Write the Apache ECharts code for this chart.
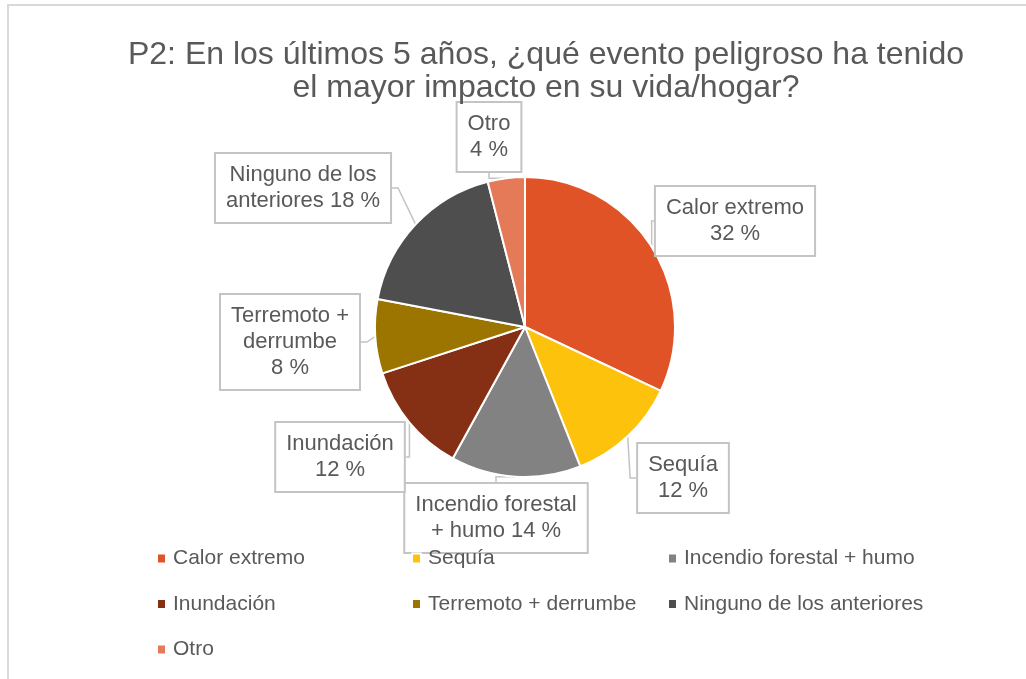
<!DOCTYPE html>
<html>
<head>
<meta charset="utf-8">
<script src="https://cdn.jsdelivr.net/npm/echarts@6/dist/echarts.min.js"></script>
<style>
  html, body { margin: 0; padding: 0; background: #fff; }
  #chart { width: 1026px; height: 679px; }
</style>
</head>
<body>
<div id="chart"></div>
<script>
const categories = [
  'Calor extremo',
  'Sequía',
  'Incendio forestal + humo',
  'Inundación',
  'Terremoto + derrumbe',
  'Ninguno de los anteriores',
  'Otro'
]
const percentValues = [32, 12, 14, 12, 8, 18, 4]
const sliceColors = ['#E05327', '#FDC20B', '#828282', '#852F15', '#9C7500', '#4E4E4E', '#E57A59']
// label text as it wraps in the callouts
const calloutTexts = [
  'Calor extremo\n32 %',
  'Sequía\n12 %',
  'Incendio forestal\n+ humo 14 %',
  'Inundación\n12 %',
  'Terremoto +\nderrumbe\n8 %',
  'Ninguno de los\nanteriores 18 %',
  'Otro\n4 %'
]
// callout box centers
const calloutPos = [
  [735, 221], [683, 478], [496, 518], [340, 457], [290, 342], [303, 188], [489, 137]
]

const chart = echarts.init(document.getElementById('chart'))
const textColor = '#595959'
const font = 'Liberation Sans'

const legendItem = (names, left) => ({
  data: names,
  left: left,
  top: 543,
  orient: 'vertical',
  itemWidth: 9,
  itemHeight: 10,
  itemGap: 24.5,
  icon: 'rect',
  selectedMode: false,
  textStyle: { color: textColor, fontSize: 21, fontFamily: font, padding: [0, 0, 0, 2] }
})

const option = {
  backgroundColor: '#fff',
  color: sliceColors,
  graphic: [{
    type: 'rect',
    shape: { x: 8, y: 5, width: 1040, height: 700 },
    style: { fill: 'none', stroke: '#d9d9d9', lineWidth: 2 },
    silent: true
  }],
  title: {
    text: 'P2: En los últimos 5 años, ¿qué evento peligroso ha tenido\nel mayor impacto en su vida/hogar?',
    left: 541,
    top: 34,
    textAlign: 'center',
    textStyle: {
      color: textColor,
      fontSize: 32,
      fontWeight: 'normal',
      fontFamily: font,
      lineHeight: 33,
      align: 'center'
    }
  },
  legend: [
    legendItem([categories[0], categories[3], categories[6]], 151),
    legendItem([categories[1], categories[4]], 406),
    legendItem([categories[2], categories[5]], 662)
  ],
  series: [{
    type: 'pie',
    center: [525, 327],
    radius: [0, 150],
    startAngle: 90,
    clockwise: true,
    animation: false,
    itemStyle: { borderColor: '#fff', borderWidth: 2 },
    data: categories.map((name, i) => ({
      name: name,
      value: percentValues[i],
      label: { formatter: calloutTexts[i] }
    })),
    label: {
      show: true,
      position: 'outside',
      color: textColor,
      fontSize: 22,
      fontFamily: font,
      lineHeight: 26,
      align: 'center',
      backgroundColor: '#fff',
      borderColor: '#c4c4c4',
      borderWidth: 2,
      padding: [8, 10, 8, 10]
    },
    labelLine: {
      show: true,
      length: 8,
      length2: 6,
      lineStyle: { color: '#c4c4c4', width: 1.5 }
    },
    labelLayout: (params) => {
      const p = calloutPos[params.dataIndex]
      return { x: p[0], y: p[1], align: 'center', verticalAlign: 'middle' }
    }
  }]
}

chart.setOption(option)
</script>
</body>
</html>
